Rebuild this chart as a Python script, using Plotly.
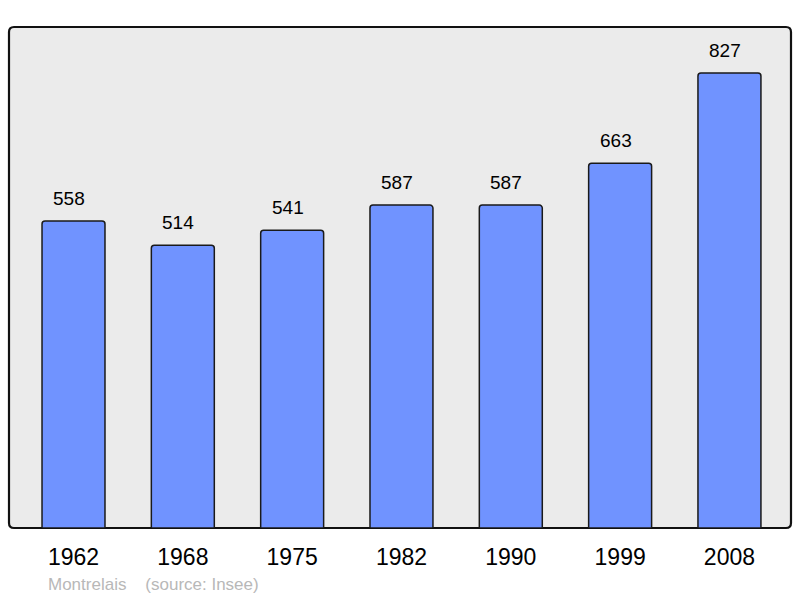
import plotly.graph_objects as go

years = ["1962", "1968", "1975", "1982", "1990", "1999", "2008"]
population = [558, 514, 541, 587, 587, 663, 827]
commune = "Montrelais"
source = "(source: Insee)"

xs = list(range(len(years)))

fig = go.Figure()
fig.add_trace(go.Bar(
    x=xs, y=population, width=0.576,
    marker=dict(color="#7093ff", line=dict(color="#1a1a1a", width=1.5), cornerradius=3),
    hoverinfo="skip",
))

for x, v in zip(xs, population):
    fig.add_annotation(x=x, y=v, text=str(v), showarrow=False, yshift=23, xshift=-4.5,
                       yanchor="middle", font=dict(size=19, color="#000", family="Liberation Sans, Arial"))

# rounded background frame (paper coords)
W, H = 782.0, 501.0
rx, ry = 5 / W, 5 / H
path = (f"M {rx} 0 L {1-rx} 0 Q 1 0 1 {ry} L 1 {1-ry} Q 1 1 {1-rx} 1 "
        f"L {rx} 1 Q 0 1 0 {1-ry} L 0 {ry} Q 0 0 {rx} 0 Z")
fig.add_shape(type="path", xref="paper", yref="paper", path=path,
              fillcolor="#ebebeb", line=dict(color="#111", width=2.2), layer="below")

fig.add_annotation(xref="paper", yref="paper", x=0.0473, y=-0.112, xanchor="left", yanchor="middle",
                   text=commune + "\u00a0\u00a0\u00a0\u00a0" + source, showarrow=False,
                   font=dict(size=17, color="#b8b8b8", family="Liberation Sans, Arial"))

fig.update_layout(
    width=800, height=598,
    margin=dict(l=9, r=9, t=27, b=70),
    paper_bgcolor="white", plot_bgcolor="rgba(0,0,0,0)",
    showlegend=False,
    font=dict(family="Liberation Sans, Arial", color="#000"),
)
fig.update_xaxes(range=[-0.59, 6.563], tickvals=xs, ticktext=years, showgrid=False, zeroline=False,
                 tickfont=dict(size=23), ticks="outside", ticklen=8, tickcolor="rgba(0,0,0,0)",
                 fixedrange=True)
fig.update_yaxes(range=[0, 910.6], showgrid=False, zeroline=False, showticklabels=False, fixedrange=True)

fig.write_html("out.html", config={"displayModeBar": False},
               post_script="document.body.style.margin='0';document.body.style.overflow='hidden';")
